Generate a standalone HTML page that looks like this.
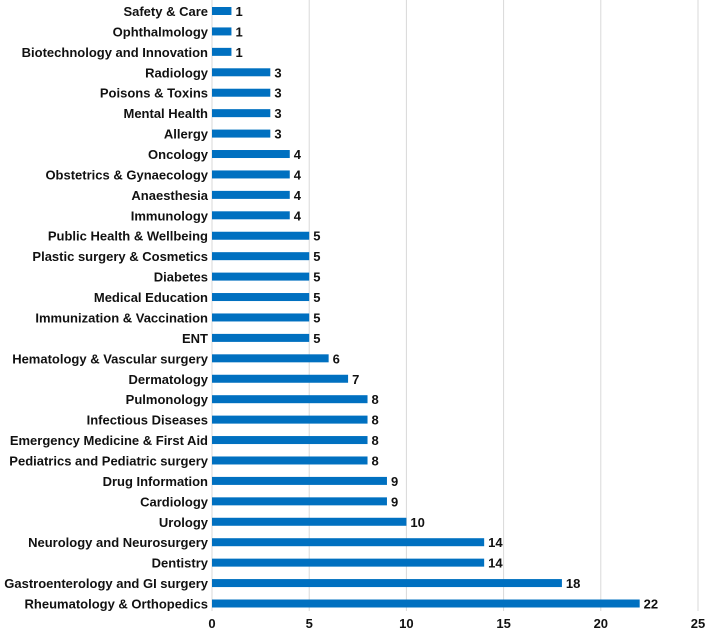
<!DOCTYPE html>
<html><head><meta charset="utf-8"><style>
body{margin:0;background:#fff;}
svg text{font-family:"Liberation Sans",sans-serif;font-weight:bold;font-size:13px;fill:#111;}
</style></head><body>
<svg id="chart" width="708" height="632" xmlns="http://www.w3.org/2000/svg"></svg>
<script>
const categories=["Safety & Care","Ophthalmology","Biotechnology and Innovation","Radiology","Poisons & Toxins","Mental Health","Allergy","Oncology","Obstetrics & Gynaecology","Anaesthesia","Immunology","Public Health & Wellbeing","Plastic surgery & Cosmetics","Diabetes","Medical Education","Immunization & Vaccination","ENT","Hematology & Vascular surgery","Dermatology","Pulmonology","Infectious Diseases","Emergency Medicine & First Aid","Pediatrics and Pediatric surgery","Drug Information","Cardiology","Urology","Neurology and Neurosurgery","Dentistry","Gastroenterology and GI surgery","Rheumatology & Orthopedics"];
const values=[1,1,1,3,3,3,3,4,4,4,4,5,5,5,5,5,5,6,7,8,8,8,8,9,9,10,14,14,18,22];
const ticks=[0,5,10,15,20,25];
const NS="http://www.w3.org/2000/svg";
const svg=document.getElementById('chart');
const x0=212,x1=698,xmax=25;
const x=v=>x0+(x1-x0)*v/xmax;
const yTop=11,yBot=603.5;
const y=i=>yTop+(yBot-yTop)*i/(categories.length-1);
function mk(t,a){const e=document.createElementNS(NS,t);for(const k in a)e.setAttribute(k,a[k]);svg.appendChild(e);return e;}
ticks.forEach(t=>{
  if(t>0){const g=mk('line',{x1:x(t),x2:x(t),y1:0,y2:611,stroke:'#d9d9d9','stroke-width':1});
  
  }
  const l=mk('text',{x:x(t),y:628,'text-anchor':'middle'});l.textContent=t;
  
  
});
const ax=mk('line',{x1:x0,x2:x0,y1:0,y2:611,stroke:'#d9d9d9','stroke-width':1});


categories.forEach((c,i)=>{
  const cy=y(i);
  const r=mk('rect',{x:x0,y:cy-4,width:x(values[i])-x0,height:8,fill:'#0070c0'});
  
  
  const lb=mk('text',{x:x0-4,y:cy+5,'text-anchor':'end'});lb.textContent=c;
  
  
  const v=mk('text',{x:x(values[i])+4,y:cy+5});v.textContent=values[i];
  
  
});
</script>
</body></html>
